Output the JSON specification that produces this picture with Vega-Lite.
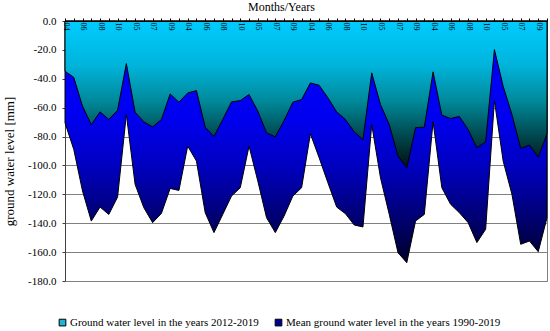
{
  "$schema": "https://vega.github.io/schema/vega-lite/v6.json",
  "autosize": {"type": "none"},
  "padding": {"left": 65, "top": 21, "right": 3, "bottom": 50},
  "width": 482,
  "height": 260,
  "background": "white",
  "config": {
    "view": {"stroke": "#808080", "strokeWidth": 1},
    "font": "Liberation Serif",
    "axis": {"labelFont": "Liberation Serif", "titleFont": "Liberation Serif", "labelOverlap": false, "labelBound": false},
    "axisY": {"labelFontSize": 11, "labelColor": "black", "labelOverlap": false, "labelFont": "Liberation Serif", "titleFont": "Liberation Serif", "titleFontSize": 13, "titleFontWeight": "normal", "titleColor": "black"},
    "legend": {"labelFont": "Liberation Serif", "titleFont": "Liberation Serif"}
  },
  "data": {
    "values": [
      {"t": "2012-04", "gw": -34.8, "mean": -70.5},
      {"t": "2012-05", "gw": -39.0, "mean": -88.9},
      {"t": "2012-06", "gw": -59.0, "mean": -117.7},
      {"t": "2012-07", "gw": -71.7, "mean": -138.5},
      {"t": "2012-08", "gw": -62.9, "mean": -128.8},
      {"t": "2012-09", "gw": -68.2, "mean": -133.9},
      {"t": "2012-10", "gw": -61.8, "mean": -121.9},
      {"t": "2013-04", "gw": -29.5, "mean": -64.7},
      {"t": "2013-05", "gw": -63.1, "mean": -113.1},
      {"t": "2013-06", "gw": -69.8, "mean": -129.3},
      {"t": "2013-07", "gw": -73.3, "mean": -139.6},
      {"t": "2013-08", "gw": -68.2, "mean": -133.2},
      {"t": "2013-09", "gw": -50.5, "mean": -115.9},
      {"t": "2013-10", "gw": -56.2, "mean": -117.3},
      {"t": "2014-04", "gw": -49.8, "mean": -86.6},
      {"t": "2014-05", "gw": -48.2, "mean": -97.0},
      {"t": "2014-06", "gw": -73.5, "mean": -132.7},
      {"t": "2014-07", "gw": -79.9, "mean": -146.5},
      {"t": "2014-08", "gw": -68.2, "mean": -133.9},
      {"t": "2014-09", "gw": -56.0, "mean": -121.2},
      {"t": "2014-10", "gw": -55.1, "mean": -115.4},
      {"t": "2015-04", "gw": -50.9, "mean": -86.6},
      {"t": "2015-05", "gw": -62.4, "mean": -110.8},
      {"t": "2015-06", "gw": -77.4, "mean": -136.2},
      {"t": "2015-07", "gw": -80.2, "mean": -146.5},
      {"t": "2015-08", "gw": -68.9, "mean": -135.0},
      {"t": "2015-09", "gw": -56.2, "mean": -121.2},
      {"t": "2015-10", "gw": -54.4, "mean": -115.4},
      {"t": "2016-04", "gw": -42.9, "mean": -78.1},
      {"t": "2016-05", "gw": -44.5, "mean": -94.7},
      {"t": "2016-06", "gw": -53.2, "mean": -112.0},
      {"t": "2016-07", "gw": -62.9, "mean": -128.8},
      {"t": "2016-08", "gw": -68.2, "mean": -133.4},
      {"t": "2016-09", "gw": -76.7, "mean": -141.2},
      {"t": "2016-10", "gw": -82.0, "mean": -142.6},
      {"t": "2017-04", "gw": -35.9, "mean": -71.7},
      {"t": "2017-05", "gw": -57.8, "mean": -108.5},
      {"t": "2017-06", "gw": -71.7, "mean": -133.9},
      {"t": "2017-07", "gw": -93.6, "mean": -160.4},
      {"t": "2017-08", "gw": -101.6, "mean": -167.3},
      {"t": "2017-09", "gw": -73.9, "mean": -138.5},
      {"t": "2017-10", "gw": -73.5, "mean": -133.9},
      {"t": "2018-04", "gw": -35.2, "mean": -69.8},
      {"t": "2018-05", "gw": -65.2, "mean": -115.4},
      {"t": "2018-06", "gw": -67.5, "mean": -126.9},
      {"t": "2018-07", "gw": -66.1, "mean": -132.7},
      {"t": "2018-08", "gw": -75.1, "mean": -139.6},
      {"t": "2018-09", "gw": -87.8, "mean": -153.4},
      {"t": "2018-10", "gw": -83.6, "mean": -144.2},
      {"t": "2019-04", "gw": -19.8, "mean": -55.1},
      {"t": "2019-05", "gw": -45.2, "mean": -97.0},
      {"t": "2019-06", "gw": -64.7, "mean": -120.0},
      {"t": "2019-07", "gw": -88.2, "mean": -154.6},
      {"t": "2019-08", "gw": -85.9, "mean": -152.3},
      {"t": "2019-09", "gw": -94.2, "mean": -159.7},
      {"t": "2019-10", "gw": -78.1, "mean": -136.2}
    ]
  },
  "encoding": {
    "x": {
      "field": "t",
      "type": "ordinal",
      "scale": {"type": "point", "padding": 0},
      "axis": {
        "orient": "top",
        "zindex": 2,
        "title": "Months/Years",
        "titleFont": "Liberation Serif",
        "titleFontSize": 12,
        "titleFontWeight": "normal",
        "titleColor": "black",
        "titleX": 216,
        "titleY": -11,
        "titleAlign": "center",
        "titleBaseline": "alphabetic",
        "labelAngle": 90,
        "labelAlign": "left",
        "labelBaseline": "middle",
        "labelPadding": -4,
        "labelFontSize": 8,
        "labelFont": "Liberation Serif",
        "labelColor": "black",
        "labelOverlap": false,
        "labelBound": false,
        "labelExpr": "(toNumber(substring(datum.value,0,4)) + toNumber(substring(datum.value,5,7))) % 2 == 0 ? substring(datum.value,5,7) : ''",
        "tickSize": 3,
        "tickColor": "black",
        "domainColor": "black",
        "grid": false
      }
    }
  },
  "layer": [
    {
      "mark": {
        "type": "area",
        "stroke": "black",
        "strokeWidth": 1,
        "fill": {
          "gradient": "linear",
          "x1": 0, "y1": 0, "x2": 0, "y2": 1,
          "stops": [
            {"offset": 0, "color": "#0000FF"},
            {"offset": 0.4, "color": "#0000F0"},
            {"offset": 0.6, "color": "#0000C0"},
            {"offset": 0.8, "color": "#000078"},
            {"offset": 1, "color": "#000028"}
          ]
        }
      },
      "encoding": {
        "y": {
          "field": "mean",
          "type": "quantitative",
          "scale": {"domain": [-180, 0], "nice": false, "zero": false},
          "axis": {
            "title": "ground water level [mm]",
            "titleFont": "Liberation Serif",
            "titleFontSize": 13,
            "titleFontWeight": "normal",
            "titleColor": "black",
            "titlePadding": 11,
            "titleY": 140,
            "values": [0, -20, -40, -60, -80, -100, -120, -140, -160, -180],
            "labelExpr": "replace(format(datum.value, '.1f'), '\u2212', '-')",
            "labelFont": "Liberation Serif",
            "labelFontSize": 11,
            "labelColor": "black",
            "labelPadding": 6,
            "labelOverlap": false,
            "labelBound": false,
            "tickSize": 3,
            "tickColor": "#404040",
            "domainColor": "#404040",
            "grid": true,
            "gridColor": "#808080",
            "gridWidth": 1
          }
        }
      }
    },
    {
      "mark": {
        "type": "area",
        "stroke": "black",
        "strokeWidth": 1,
        "fill": {
          "gradient": "linear",
          "x1": 0, "y1": 0, "x2": 0, "y2": 1,
          "stops": [
            {"offset": 0, "color": "#00CCFF"},
            {"offset": 0.3, "color": "#00B4DC"},
            {"offset": 0.55, "color": "#008898"},
            {"offset": 0.75, "color": "#005058"},
            {"offset": 1, "color": "#001010"}
          ]
        }
      },
      "encoding": {
        "y": {
          "field": "gw",
          "type": "quantitative",
          "axis": {
            "title": "ground water level [mm]",
            "titleFont": "Liberation Serif",
            "titleFontSize": 13,
            "titleFontWeight": "normal",
            "titleColor": "black",
            "titlePadding": 11,
            "titleY": 140,
            "values": [0, -20, -40, -60, -80, -100, -120, -140, -160, -180],
            "labelExpr": "replace(format(datum.value, '.1f'), '\u2212', '-')",
            "labelFont": "Liberation Serif",
            "labelFontSize": 11,
            "labelColor": "black",
            "labelPadding": 6,
            "labelOverlap": false,
            "labelBound": false,
            "tickSize": 3,
            "tickColor": "#404040",
            "domainColor": "#404040",
            "grid": true,
            "gridColor": "#808080",
            "gridWidth": 1
          }
        }
      }
    },
    {
      "transform": [{"filter": "false"}],
      "mark": {"type": "square", "stroke": "black", "strokeWidth": 1, "opacity": 1},
      "encoding": {
        "color": {
          "field": "series",
          "type": "nominal",
          "scale": {
            "domain": ["Ground water level in the years 2012-2019", "Mean ground water level in the years 1990-2019"],
            "range": ["#1FB5D0", "#000090"]
          },
          "legend": {
            "title": null,
            "orient": "none",
            "direction": "horizontal",
            "columns": 2,
            "legendX": -8,
            "legendY": 296,
            "padding": 0,
            "symbolType": "square",
            "symbolSize": 45,
            "symbolStrokeColor": "black",
            "symbolStrokeWidth": 1,
            "labelFont": "Liberation Serif",
            "labelFontSize": 11,
            "labelColor": "black",
            "labelLimit": 0,
            "labelOffset": 2,
            "columnPadding": 14
          }
        }
      }
    }
  ]
}
